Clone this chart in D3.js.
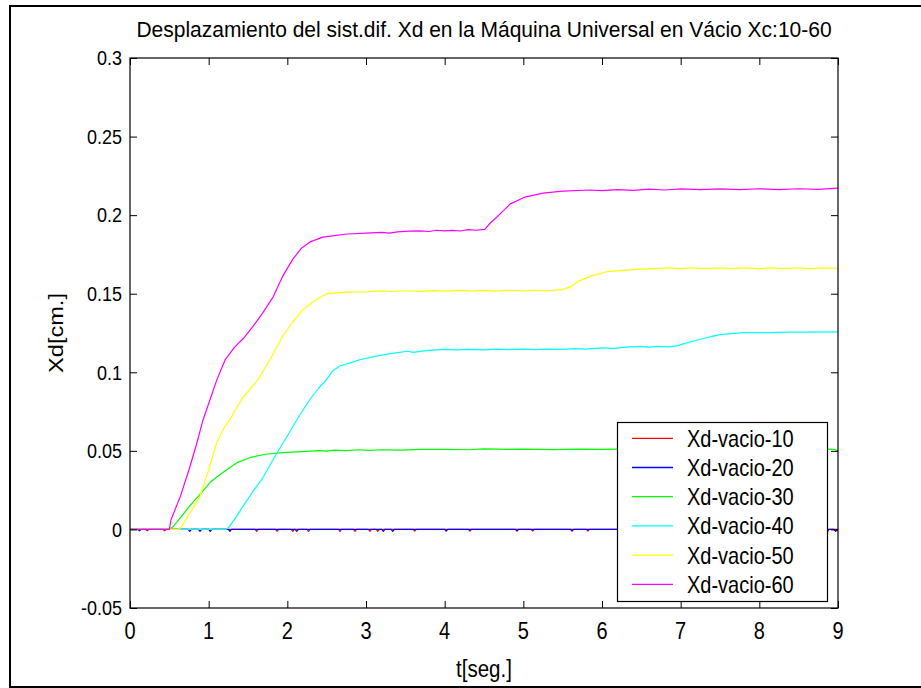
<!DOCTYPE html>
<html>
<head>
<meta charset="utf-8">
<script src="https://cdn.jsdelivr.net/npm/d3@7"></script>
<style>
  html, body { margin: 0; padding: 0; background: #fff; }
  svg { display: block; }
  text { font-family: "Liberation Sans", Arial, Helvetica, sans-serif; fill: #000; }
</style>
</head>
<body>
<svg id="chart" width="921" height="688"></svg>
<script>
// ---------------- DATA ----------------
const titleText = "Desplazamiento del sist.dif. Xd en la Máquina Universal en Vácio Xc:10-60";
const xLabel = "t[seg.]";
const yLabel = "Xd[cm.]";

const xTicks = [0, 1, 2, 3, 4, 5, 6, 7, 8, 9];
const xTickLabels = ["0", "1", "2", "3", "4", "5", "6", "7", "8", "9"];
const yTicks = [-0.05, 0, 0.05, 0.1, 0.15, 0.2, 0.25, 0.3];
const yTickLabels = ["-0.05", "0", "0.05", "0.1", "0.15", "0.2", "0.25", "0.3"];

const seriesNames = ["Xd-vacio-10", "Xd-vacio-20", "Xd-vacio-30", "Xd-vacio-40", "Xd-vacio-50", "Xd-vacio-60"];
const seriesColors = ["#ff0000", "#0000ff", "#00ff00", "#00ffff", "#ffff00", "#ff00ff"];

// [t, Xd] points
const vacio10 = [[0,0],[0.2,0],[0.22,-0.0008],[0.24,0],[0.42,0],[0.44,-0.0008],[0.46,0],[1.59,0],[1.61,-0.0012],[1.63,0],
  [1.85,0],[1.87,-0.0012],[1.89,0],[2.05,0],[2.07,-0.0012],[2.09,0],[2.25,0],[2.27,-0.0012],[2.29,0],[2.65,0],[2.67,-0.0012],[2.69,0],
  [2.84,0],[2.86,-0.0012],[2.88,0],[3.03,0],[3.05,-0.0012],[3.07,0],[3.13,0],[3.15,-0.0012],[3.17,0],[3.6,0],[3.62,-0.001],[3.64,0],
  [4.3,0],[4.32,-0.001],[4.34,0],[5.1,0],[5.12,-0.001],[5.14,0],[5.8,0],[5.82,-0.001],[5.84,0],[6.7,0],[6.72,-0.001],[6.74,0],
  [7.5,0],[7.52,-0.001],[7.54,0],[8.4,0],[8.42,-0.0012],[8.44,0],[8.85,0],[8.87,-0.0012],[8.89,0],[9,0]];
const vacio20 = [[0,0],[0.1,0],[0.12,-0.0008],[0.14,0],[0.74,0],[0.76,-0.0012],[0.78,0],[0.87,0],[0.89,-0.0012],[0.91,0],
  [1.0,0],[1.02,-0.0012],[1.04,0],[1.25,0],[1.27,-0.0012],[1.29,0],[2.1,0],[2.12,-0.0012],[2.14,0],[3.2,0],[3.22,-0.0012],[3.24,0],
  [3.32,0],[3.34,-0.0012],[3.36,0],[4.0,0],[4.02,-0.001],[4.04,0],[4.9,0],[4.92,-0.001],[4.94,0],[5.6,0],[5.62,-0.001],[5.64,0],
  [6.4,0],[6.42,-0.001],[6.44,0],[7.2,0],[7.22,-0.001],[7.24,0],[8.1,0],[8.12,-0.001],[8.14,0],[8.6,0],[8.62,-0.0012],[8.64,0],
  [8.95,0],[8.97,-0.0012],[9,0]];
const vacio30 = [[0,0],[0.5,0],[0.55,0.002],[0.65,0.008],[0.76,0.015],[0.9,0.023],[1.02,0.030],[1.12,0.034],[1.23,0.038],[1.36,0.0425],
  [1.53,0.0458],[1.74,0.048],[1.99,0.049],[2.25,0.0497],[2.4,0.0502],[2.5,0.0498],[2.6,0.0505],[2.75,0.0502],[2.9,0.0507],[3.05,0.0503],
  [3.2,0.0507],[3.43,0.0505],[3.7,0.0509],[4.0,0.0510],[4.3,0.0507],[4.5,0.0512],[4.8,0.0509],[5.0,0.0511],[5.4,0.0508],[5.7,0.0511],
  [6.0,0.0510],[6.4,0.0512],[6.8,0.0509],[7.0,0.0511],[7.4,0.0512],[7.8,0.0510],[8.0,0.0512],[8.4,0.0510],[8.8,0.0512],[8.95,0.0510],[9,0.0500]];
const vacio40 = [[0,0],[1.22,0],[1.25,0.001],[1.35,0.008],[1.44,0.015],[1.56,0.024],[1.69,0.033],[1.86,0.048],[2.03,0.062],[2.16,0.073],
  [2.29,0.083],[2.4,0.090],[2.5,0.0955],[2.58,0.101],[2.67,0.104],[2.8,0.106],[2.92,0.108],[3.1,0.110],[3.27,0.1115],[3.4,0.1125],
  [3.52,0.1134],[3.6,0.1127],[3.69,0.1133],[3.8,0.1140],[4.0,0.1146],[4.15,0.1142],[4.3,0.1146],[4.5,0.1143],[4.65,0.1147],[4.8,0.1144],
  [5.0,0.1148],[5.15,0.1144],[5.3,0.1148],[5.5,0.1146],[5.65,0.1150],[5.8,0.1148],[6.0,0.1155],[6.15,0.1152],[6.3,0.1160],[6.5,0.1165],
  [6.6,0.1160],[6.7,0.1165],[6.85,0.1162],[6.95,0.1168],[7.1,0.1190],[7.25,0.1210],[7.4,0.1228],[7.5,0.1240],[7.8,0.1252],[8.1,0.1253],
  [8.4,0.1255],[8.6,0.1256],[9,0.1257]];
const vacio50 = [[0,0],[0.62,0],[0.66,0.002],[0.78,0.012],[0.89,0.021],[1.0,0.038],[1.1,0.055],[1.2,0.065],[1.27,0.070],[1.42,0.083],
  [1.63,0.0955],[1.78,0.108],[1.94,0.123],[2.07,0.132],[2.2,0.140],[2.33,0.145],[2.5,0.150],[2.76,0.151],[3.0,0.1512],[3.2,0.1518],
  [3.35,0.1514],[3.5,0.1519],[3.69,0.1515],[3.85,0.1520],[4.0,0.1516],[4.2,0.1521],[4.35,0.1517],[4.5,0.1521],[4.65,0.1517],[4.8,0.1522],
  [5.0,0.1518],[5.15,0.1522],[5.3,0.1519],[5.5,0.1526],[5.6,0.1545],[5.7,0.1580],[5.85,0.1610],[6.06,0.1640],[6.2,0.1645],[6.48,0.1656],
  [6.7,0.1660],[6.85,0.1664],[7.0,0.1660],[7.15,0.1664],[7.3,0.1660],[7.5,0.1664],[7.65,0.1660],[7.8,0.1664],[8.0,0.1660],[8.15,0.1664],
  [8.3,0.1660],[8.5,0.1664],[8.65,0.1660],[8.8,0.1664],[9,0.1662]];
const vacio60 = [[0,0],[0.5,0],[0.52,0.006],[0.64,0.021],[0.75,0.038],[0.85,0.055],[0.93,0.070],[1.02,0.083],[1.106,0.0955],[1.21,0.108],
  [1.33,0.116],[1.45,0.122],[1.56,0.129],[1.69,0.138],[1.82,0.148],[1.94,0.161],[2.07,0.172],[2.18,0.179],[2.29,0.183],[2.45,0.186],
  [2.6,0.187],[2.76,0.188],[3.0,0.1885],[3.2,0.1890],[3.3,0.1886],[3.4,0.1893],[3.55,0.1898],[3.69,0.1900],[3.8,0.1896],[3.9,0.1904],
  [4.0,0.1900],[4.1,0.1903],[4.2,0.1899],[4.3,0.1908],[4.4,0.1904],[4.51,0.1910],[4.58,0.1950],[4.66,0.1987],[4.75,0.2030],[4.83,0.2070],
  [5.02,0.2115],[5.25,0.2140],[5.5,0.2153],[5.85,0.2160],[6.0,0.2156],[6.2,0.2162],[6.4,0.2158],[6.6,0.2165],[6.8,0.2160],[7.0,0.2167],
  [7.25,0.2162],[7.5,0.2167],[7.75,0.2162],[8.0,0.2168],[8.25,0.2163],[8.5,0.2168],[8.75,0.2164],[9,0.2172]];

const seriesData = [vacio10, vacio20, vacio30, vacio40, vacio50, vacio60];

// ---------------- DRAW ----------------
const svg = d3.select("#chart");
const L = 130, R = 838, T = 58, B = 608;
const x = d3.scaleLinear().domain([0, 9]).range([L, R]);
const y = d3.scaleLinear().domain([-0.05, 0.3]).range([B, T]);

function stretchedText(g, txt, tx, ty, size, anchor, sy, rotate) {
  return g.append("text")
    .attr("transform", `translate(${tx},${ty})` + (rotate ? ` rotate(${rotate})` : "") + ` scale(${rotate ? sy : 1},${rotate ? 1 : sy})`)
    .attr("text-anchor", anchor)
    .style("font-size", size + "px")
    .text(txt);
}

// outer figure frame
svg.append("rect").attr("x", 10).attr("y", 6).attr("width", 940).attr("height", 681)
  .attr("fill", "none").attr("stroke", "#000").attr("stroke-width", 2);

// clip
svg.append("clipPath").attr("id", "clip").append("rect")
  .attr("x", L).attr("y", T).attr("width", R - L).attr("height", B - T);

// series
const line = d3.line().x(d => x(d[0])).y(d => y(d[1]));
const plot = svg.append("g").attr("clip-path", "url(#clip)");
seriesData.forEach((s, i) => {
  plot.append("path").attr("d", line(s)).attr("fill", "none")
    .attr("stroke", seriesColors[i]).attr("stroke-width", 1.2)
    .attr("stroke-linejoin", "round");
});

// axes (inward ticks on all sides)
function styleAxis(g) {
  g.select(".domain").remove();
  g.selectAll(".tick line").attr("stroke", "#000").attr("stroke-width", 1);
}
const gx = svg.append("g").attr("transform", `translate(0,${B})`)
  .call(d3.axisBottom(x).tickValues(xTicks).tickSizeInner(-7).tickSizeOuter(0).tickFormat(""));
styleAxis(gx);
const gxt = svg.append("g").attr("transform", `translate(0,${T})`)
  .call(d3.axisTop(x).tickValues(xTicks).tickSizeInner(-7).tickSizeOuter(0).tickFormat(""));
styleAxis(gxt);
const gy = svg.append("g").attr("transform", `translate(${L},0)`)
  .call(d3.axisLeft(y).tickValues(yTicks).tickSizeInner(-7).tickSizeOuter(0).tickFormat(""));
styleAxis(gy);
const gyr = svg.append("g").attr("transform", `translate(${R},0)`)
  .call(d3.axisRight(y).tickValues(yTicks).tickSizeInner(-7).tickSizeOuter(0).tickFormat(""));
styleAxis(gyr);

// box
svg.append("rect").attr("x", L).attr("y", T).attr("width", R - L).attr("height", B - T)
  .attr("fill", "none").attr("stroke", "#000").attr("stroke-width", 1.2);

// tick labels
const lab = svg.append("g");
xTicks.forEach((v, i) => stretchedText(lab, xTickLabels[i], x(v), 639, 20, "middle", 1.22));
yTicks.forEach((v, i) => stretchedText(lab, yTickLabels[i], 122, y(v) + 7.3, 18, "end", 1.1));

// title and axis labels
stretchedText(svg, titleText, (L + R) / 2, 37, 21, "middle", 1.05);
stretchedText(svg, xLabel, (L + R) / 2, 677, 20.5, "middle", 1.18);
stretchedText(svg, yLabel, 63, (T + B) / 2, 20, "middle", 1.18, -90);

// legend
const lg = svg.append("g");
lg.append("rect").attr("x", 617.5).attr("y", 422.5).attr("width", 210).attr("height", 179)
  .attr("fill", "#fff").attr("stroke", "#000").attr("stroke-width", 1.2);
seriesNames.forEach((n, i) => {
  const cy = 438.3 + i * 29.2;
  lg.append("line").attr("x1", 632).attr("x2", 673).attr("y1", cy).attr("y2", cy)
    .attr("stroke", seriesColors[i]).attr("stroke-width", 1.3);
  stretchedText(lg, n, 687, cy + 8.4, 20, "start", 1.18);
});
</script>
</body>
</html>
